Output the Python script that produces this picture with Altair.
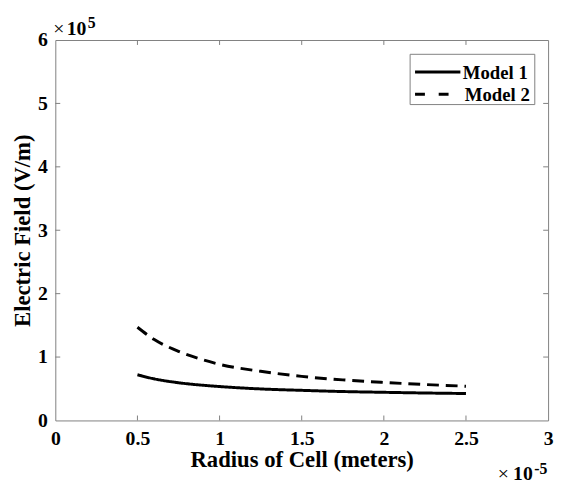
import altair as alt
import pandas as pd

# ---- data (x in units of 1e-5 m, y in units of 1e5 V/m) ----
radius = [0.5, 0.6, 0.75, 0.9, 1.0, 1.25, 1.5, 1.75, 2.0, 2.25, 2.5]
model1 = [0.72, 0.657, 0.595, 0.555, 0.535, 0.497, 0.475, 0.456, 0.444, 0.433, 0.425]
model2 = [1.47, 1.28, 1.09, 0.955, 0.885, 0.775, 0.695, 0.64, 0.60, 0.567, 0.54]
series_names = ["Model 1", "Model 2"]
x_ticks = [0, 0.5, 1, 1.5, 2, 2.5, 3]
y_ticks = [0, 1, 2, 3, 4, 5, 6]

W, H = 500, 386
FONT = "'Times New Roman', 'Liberation Serif', serif"
AX = "#808080"

rows = []
for name, vals in zip(series_names, [model1, model2]):
    for r, v in zip(radius, vals):
        rows.append({"radius": r, "field": v, "series": name})
df = pd.DataFrame(rows)

xs = alt.Scale(domain=[0, 3], nice=False, zero=False)
ys = alt.Scale(domain=[0, 6], nice=False, zero=False)
dash_scale = alt.Scale(domain=series_names, range=[[1, 0], [12, 7]])

axis_style = dict(labelFont=FONT, labelFontSize=20, labelFontWeight="bold", labelColor="black",
                  titleFont=FONT, titleFontSize=23, titleFontWeight="bold", titleColor="black",
                  domain=False, ticks=False, grid=False, labelPadding=8, labelFlush=False,
                  format="~g")

lines = alt.Chart(df).mark_line(color="black", strokeWidth=3, interpolate="monotone").encode(
    x=alt.X("radius:Q", scale=xs,
            axis=alt.Axis(values=x_ticks, title="Radius of Cell (meters)",
                          titleX=W / 2, titleY=47, titleBaseline="alphabetic", **axis_style)),
    y=alt.Y("field:Q", scale=ys,
            axis=alt.Axis(values=y_ticks, title="Electric Field (V/m)",
                          titleX=-33, titleY=H / 2, titleBaseline="middle", titleAngle=270,
                          **axis_style)),
    strokeDash=alt.StrokeDash("series:N", scale=dash_scale, legend=None),
    detail="series:N",
)

# inward tick marks on all four sides (same field names so axes merge)
xt = pd.DataFrame({"radius": x_ticks[1:-1]})
yt = pd.DataFrame({"field": y_ticks[1:-1]})
tick_b = alt.Chart(xt).mark_rule(color=AX, strokeWidth=1).encode(
    x=alt.X("radius:Q", scale=xs), y=alt.value(H), y2=alt.value(H - 5))
tick_t = alt.Chart(xt).mark_rule(color=AX, strokeWidth=1).encode(
    x=alt.X("radius:Q", scale=xs), y=alt.value(0), y2=alt.value(5))
tick_l = alt.Chart(yt).mark_rule(color=AX, strokeWidth=1).encode(
    y=alt.Y("field:Q", scale=ys), x=alt.value(0), x2=alt.value(5))
tick_r = alt.Chart(yt).mark_rule(color=AX, strokeWidth=1).encode(
    y=alt.Y("field:Q", scale=ys), x=alt.value(W), x2=alt.value(W - 5))

one = pd.DataFrame({"a": [0]})


def txt(s, x, y, size, weight="normal"):
    return alt.Chart(one).mark_text(font=FONT, fontSize=size, fontWeight=weight, align="left",
                                    baseline="alphabetic", color="black").encode(
        x=alt.value(x), y=alt.value(y), text=alt.value(s))


# exponent annotations
exps = [
    txt("×", -2, -5, 20), txt("10", 11.5, -5, 20, "bold"), txt("5", 33, -12, 16, "bold"),
    txt("×", 449, 446, 20), txt("10", 464.5, 446, 20, "bold"), txt("-5", 486, 440, 16, "bold"),
]

# legend
leg_box = alt.Chart(one).mark_rect(fill="white", stroke=AX, strokeWidth=1).encode(
    x=alt.value(360), x2=alt.value(486.5), y=alt.value(14.5), y2=alt.value(65.5))
leg_df = pd.DataFrame({"series": series_names})
leg_rows = []
for i, name in enumerate(series_names):
    yy = 32.5 + 22.5 * i
    leg_rows.append(
        alt.Chart(leg_df[leg_df["series"] == name]).mark_rule(
            color="black", strokeWidth=3,
            strokeDash=[1, 0] if i == 0 else [10, 14]).encode(
            x=alt.value(365), x2=alt.value(411 if i == 0 else 401), y=alt.value(yy)))
    leg_rows.append(
        alt.Chart(leg_df[leg_df["series"] == name]).mark_text(
            font=FONT, fontSize=19, fontWeight="bold", align="left", baseline="middle",
            color="black").encode(
            x=alt.value(413.5 + 2 * i), y=alt.value(yy + 1), text="series:N"))

chart = alt.layer(
    lines, tick_b, tick_t, tick_l, tick_r, *exps, leg_box, *leg_rows
).properties(
    width=W, height=H,
    autosize=alt.AutoSizeParams(type="none"),
    padding={"left": 48, "top": 29, "right": 7, "bottom": 62},
).configure_view(
    stroke=AX, strokeWidth=1
).configure_axis(
    domain=False, ticks=False, grid=False,
    labelFont=FONT, labelFontSize=20, labelFontWeight="bold", labelColor="black",
    titleFont=FONT, titleFontSize=23, titleFontWeight="bold", titleColor="black",
)

chart.save("out.html", embed_options={"renderer": "svg", "actions": False})
